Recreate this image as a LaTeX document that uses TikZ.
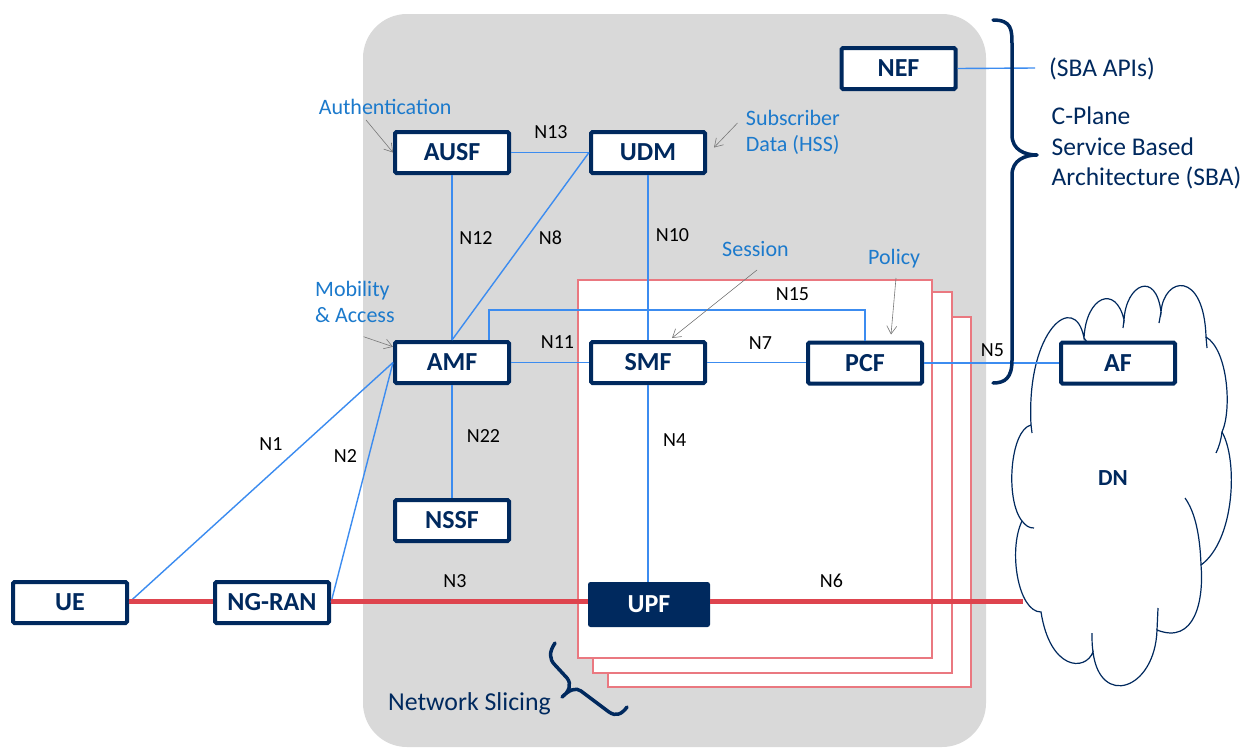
\documentclass[tikz,border=0pt]{standalone}
\usepackage{fontspec}
\setmainfont{Carlito}
\usetikzlibrary{arrows.meta,calc}
\definecolor{navy}{RGB}{0,41,94}
\definecolor{lblue}{RGB}{60,140,240}
\definecolor{tblue}{RGB}{28,122,204}
\definecolor{redl}{RGB}{222,68,78}
\definecolor{slicered}{RGB}{234,120,128}
\definecolor{bggray}{RGB}{217,217,217}
\definecolor{ptrgray}{RGB}{120,120,120}
\tikzset{
  nf/.style={draw=navy, line width=4pt, fill=white, rounded corners=1.5pt,
    minimum width=114pt, minimum height=41pt, inner sep=0pt, text=navy,
    font=\bfseries\fontsize{26}{30}\selectfont},
  upfst/.style={fill=navy, rounded corners=2.5pt, minimum width=122pt, minimum height=45pt,
    inner sep=0pt, text=white, font=\bfseries\fontsize{26}{30}\selectfont},
  sba/.style={draw=lblue, line width=1.4pt},
  redln/.style={draw=redl, line width=5pt},
  slice/.style={draw=slicered, line width=1.3pt, fill=white},
  lab/.style={anchor=base, inner sep=0pt, font=\fontsize{20}{24}\selectfont},
  blab/.style={anchor=base west, inner sep=0pt, text=tblue, font=\fontsize{22}{26}\selectfont},
  rtxt/.style={anchor=base west, inner sep=0pt, text=navy, font=\fontsize{25.5}{30}\selectfont},
  ptr/.style={draw=ptrgray, line width=0.6pt, -{Straight Barb[length=8pt,width=10pt]}},
  cloudst/.style={draw=navy, line width=1.2pt},
  bracest/.style={draw=navy, line width=3.5pt, line cap=round, line join=round}
}
\begin{document}
\begin{tikzpicture}[x=1pt,y=-1pt]
\useasboundingbox (0,0) rectangle (1247,747);
\fill[white] (0,0) rectangle (1247,747);
% core background
\fill[bggray, rounded corners=44pt] (363,14) rectangle (986,747);
% network slices
\draw[slice] (608,317) rectangle (971,687);
\draw[slice] (593,292) rectangle (952,673);
\draw[slice] (578,280) rectangle (932,658);

% network functions
\node[nf] (nef) at (898.5,68.5) {NEF};
\node[nf] (ausf) at (452,152.5) {AUSF};
\node[nf] (udm) at (648,152.5) {UDM};
\node[nf] (amf) at (452,362.5) {AMF};
\node[nf] (smf) at (648,362.5) {SMF};
\node[nf] (pcf) at (865,363) {PCF};
\node[nf] (nssf) at (452,520.5) {NSSF};
\node[nf] (ue) at (70,602.5) {UE};
\node[nf] (ngran) at (272,602.5) {NG-RAN};
\node[upfst] (upf) at (649,604.5) {UPF};

% DN cloud
\filldraw[cloudst, fill=white] (1031,425) .. controls (1026,330) and (1075,290) .. (1084,338)
 .. controls (1086,296) and (1116,284) .. (1124,320)
 .. controls (1126,284) and (1156,270) .. (1161,312)
 .. controls (1164,276) and (1204,270) .. (1206,337)
 .. controls (1228,350) and (1232,410) .. (1222,432)
 .. controls (1238,460) and (1235,540) .. (1201,565)
 .. controls (1204,600) and (1195,645) .. (1157,630)
 .. controls (1155,690) and (1100,708) .. (1093,652)
 .. controls (1085,672) and (1050,670) .. (1041,612)
 .. controls (1018,612) and (1008,550) .. (1022,521)
 .. controls (1005,500) and (1010,430) .. (1031,425) -- cycle;
\draw[cloudst] (1031,425) -- (1032,433);
\draw[cloudst] (1084,338) -- (1087,342);
\draw[cloudst] (1124,320) -- (1123,328);
\draw[cloudst] (1161,312) -- (1159,323);
\draw[cloudst] (1206,337) -- (1207,348);
\draw[cloudst] (1222,432) .. controls (1221,440) and (1219,447) .. (1216,453);
\draw[cloudst] (1201,565) .. controls (1200,535) and (1195,512) .. (1185,498);
\draw[cloudst] (1157,630) -- (1158,608);
\draw[cloudst] (1093,652) .. controls (1092,645) and (1092,640) .. (1092,633);
\draw[cloudst] (1022,521) .. controls (1026,526) and (1029,528) .. (1034,528);
\node[inner sep=0pt, text=navy, font=\bfseries\fontsize{23}{27}\selectfont] (dn) at (1113,478) {DN};
\node[nf] (af) at (1118,363) {AF};

% SBA interfaces
\draw[sba] (ausf.east) -- (udm.west);
\draw[sba] (ausf.south) -- (amf.north);
\draw[sba] (amf.north) -- (udm.west);
\draw[sba] (udm.south) -- (smf.north);
\draw[sba] (amf.east) -- (smf.west);
\draw[sba] (smf.east) -- (smf.east -| pcf.west);
\draw[sba] (smf.south) -- (smf.south |- upf.north);
\draw[sba] (amf.south) -- (nssf.north);
\draw[sba] ($(amf.north)+(37,0)$) -- ++(0,-30) -| (pcf.north);
\draw[sba] (pcf.east) -- (pcf.east -| af.west);
\coordinate (sbaend) at (1035,68);
\draw[sba] (nef.east) -- (sbaend);
\draw[sba] (ue.east) -- (amf.west);
\draw[sba] (ngran.east) -- (amf.west);

% user plane
\coordinate (ry) at (0,601);
\coordinate (dnedge) at (1023,601);
\draw[redln] (ue.east |- ry) -- (ngran.west |- ry);
\draw[redln] (ngran.east |- ry) -- (upf.west |- ry);
\draw[redln] (upf.east |- ry) -- (dnedge);

% interface labels
\node[lab] (n13) at (551,138.3) {N13};
\node[lab] (n12) at (476,244) {N12};
\node[lab] (n8) at (550.5,244) {N8};
\node[lab] (n10) at (672.5,241.7) {N10};
\node[lab] (n11) at (557.5,348.3) {N11};
\node[lab] (n7) at (760.5,349) {N7};
\node[lab] (n15) at (792.5,300.7) {N15};
\node[lab] (n5) at (992.5,356) {N5};
\node[lab] (n4) at (674.7,446.7) {N4};
\node[lab] (n6) at (831.5,587.7) {N6};
\node[lab] (n1) at (271,450.7) {N1};
\node[lab] (n2) at (345.5,462.3) {N2};
\node[lab] (n22) at (483.5,442.7) {N22};
\node[lab] (n3) at (455,587.7) {N3};

% function descriptions
\node[blab] (authl) at (318.6,114) {Authentication};
\node[blab] (subl1) at (745.7,125) {Subscriber};
\node[blab] (subl2) at (745.7,151.7) {Data (HSS)};
\node[blab] (sessl) at (722,256.7) {Session};
\node[blab] (mobl1) at (315,296.7) {Mobility};
\node[blab] (mobl2) at (315,322.7) {\& Access};
\node[blab] (poll) at (868,264) {Policy};

% pointers
\coordinate (authtail) at (366,120);
\coordinate (subtail) at (737.5,123);
\coordinate (mobtail) at (363.6,336.7);
\coordinate (sesstail) at (757,270);
\coordinate (poltail) at (896,278);
\draw[ptr] (authtail) -- (ausf.west);
\draw[ptr] (subtail) -- ($(udm.east)+(7,-5)$);
\draw[ptr] (mobtail) -- ($(amf.north west)!0.15!(amf.south west)$);
\draw[ptr] (sesstail) -- ($(smf.north)+(24,-2)$);
\draw[ptr] (poltail) -- ($(pcf.north)+(26,-6)$);

% SBA brace and text
\draw[bracest] (993,20) .. controls (1012,20) and (1012,30) .. (1012,45) -- (1012,135)
  .. controls (1012,150) and (1025,155) .. (1037,155)
  .. controls (1025,155) and (1012,160) .. (1012,175) -- (1012,360)
  .. controls (1012,378) and (1005,383) .. (993,383);
\node[rtxt] (sbaapi) at (1049,76) {(SBA APIs)};
\node[rtxt] (cpl1) at (1051.5,124) {C-Plane};
\node[rtxt] (cpl2) at (1051.5,155) {Service Based};
\node[rtxt] (cpl3) at (1051.5,185) {Architecture (SBA)};

% network slicing brace and text
\draw[bracest] (555,643) .. controls (549,652) and (549,659) .. (555,665) -- (567,678)
  .. controls (572,684) and (569,692) .. (562,697)
  .. controls (569,690) and (576,687) .. (581,691) -- (609,712)
  .. controls (616,717) and (622,714) .. (627,707);
\node[anchor=base west, inner sep=0pt, text=navy, font=\fontsize{25.8}{30}\selectfont] (nsl) at (388,710) {Network Slicing};
\end{tikzpicture}
\end{document}
